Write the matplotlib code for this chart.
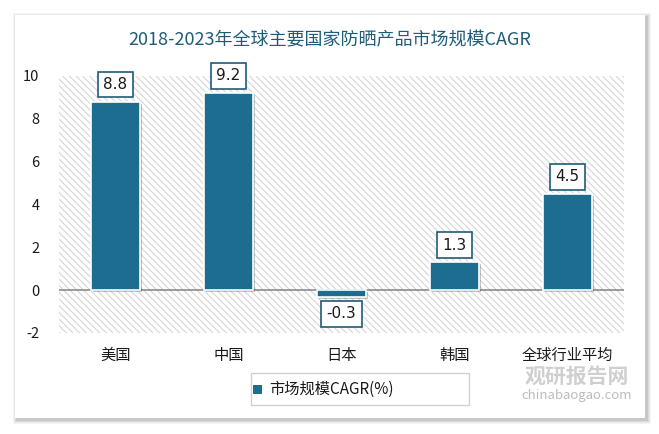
#!/usr/bin/env python3
"""CAGR of sunscreen market by country, 2018-2023."""

import matplotlib

matplotlib.use("Agg")
import matplotlib.pyplot as plt
import matplotlib.patheffects as pe
from matplotlib.patches import Rectangle
import numpy as np

plt.rcParams["font.family"] = ["Noto Sans CJK SC", "DejaVu Sans"]
plt.rcParams["hatch.color"] = "#D6D6D6"
plt.rcParams["hatch.linewidth"] = 0.8

categories = ["美国", "中国", "日本", "韩国", "全球行业平均"]
cagr = [8.8, 9.2, -0.3, 1.3, 4.5]
yticks = [-2, 0, 2, 4, 6, 8, 10]

BAR = "#1C6D90"
TITLE = "#1F5C78"
INK = "#1A1A1A"

W, H = 659, 434
fig = plt.figure(figsize=(W / 100, H / 100), dpi=100)

# card with soft shadow
for i, a in enumerate([0.04, 0.05, 0.06, 0.08]):
    off = 4 - i
    fig.patches.append(
        Rectangle((15 - off + 2, 16 - off - 2), 630 + 2 * off, 403 + 2 * off,
                  transform=None, facecolor="black", alpha=a, edgecolor="none", zorder=-10)
    )
fig.patches.append(
    Rectangle((15, 16), 630, 403, transform=None, facecolor="white", edgecolor="none", zorder=-9)
)

ax = fig.add_axes([59 / W, 101 / H, 565 / W, 257 / H])
ax.set_facecolor("none")
ax.add_patch(
    Rectangle((0, 0), 1, 1, transform=ax.transAxes, facecolor="white",
              edgecolor="#D6D6D6", linewidth=0, hatch="\\\\\\\\\\", zorder=0)
)

x = np.arange(len(categories))
bars = ax.bar(x, cagr, width=0.44, color=BAR, edgecolor="white", linewidth=1.2, zorder=3)
for b in bars:
    b.set_path_effects([pe.SimplePatchShadow(offset=(1.5, -1.5), alpha=0.25), pe.Normal()])

ax.axhline(0, color="#8C8C8C", linewidth=1.2, zorder=2)

for xi, v in zip(x, cagr):
    if v >= 0:
        y, va, dy = v, "bottom", 0.45
    else:
        y, va, dy = v, "top", -0.45
    ax.text(xi, y + dy, f"{v:.1f}", ha="center", va=va, fontsize=11, color=INK,
            family=["DejaVu Sans"], zorder=5,
            bbox=dict(boxstyle="square,pad=0.35", facecolor="white", edgecolor=TITLE, linewidth=1.2))

ax.set_xlim(-0.5, len(categories) - 0.5)
ax.set_ylim(-2, 10)
ax.set_yticks(yticks)
ax.set_yticklabels([str(t) for t in yticks], fontsize=10.5, color=INK)
ax.set_xticks(x, categories, fontsize=11, color=INK)
ax.tick_params(length=0, pad=10)
ax.tick_params(axis="y", pad=14)
for s in ax.spines.values():
    s.set_visible(False)

fig.text(0.5, (H - 40) / H, "2018-2023年全球主要国家防晒产品市场规模CAGR", ha="center", va="center",
         fontsize=13, color=TITLE)

# legend
fig.patches.append(
    Rectangle((251, H - 405), 218, 32, transform=None, facecolor="white",
              edgecolor="#D0D0D0", linewidth=1)
)
fig.patches.append(
    Rectangle((253, H - 394), 9, 9, transform=None, facecolor=BAR, edgecolor="none")
)
fig.text(269 / W, (H - 389) / H, "市场规模CAGR(%)", ha="left", va="center", fontsize=11, color=INK)

# watermark
fig.text(577 / W, (H - 376) / H, "观研报告网", ha="center", va="center", fontsize=15,
         color="#C4C4C4", fontweight="bold", alpha=0.8)
fig.text(577 / W, (H - 395) / H, "chinabaogao.com", ha="center", va="center", fontsize=9.5,
         color="#ABABAB", alpha=0.8)

fig.savefig("out.png", dpi=100)
